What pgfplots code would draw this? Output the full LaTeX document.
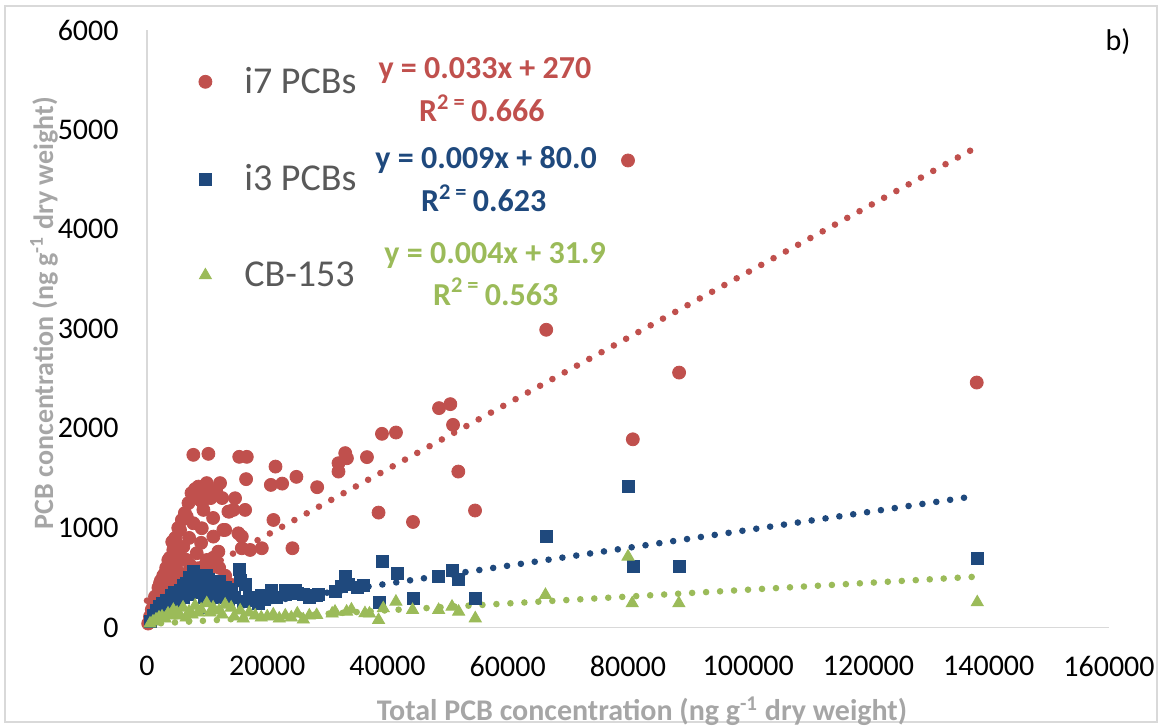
\documentclass[border=0pt]{standalone}
\usepackage{pgfplots}
\pgfplotsset{compat=1.18}
\usepackage{fontspec}
\setmainfont{Carlito}
\definecolor{cred}{HTML}{C0504D}
\definecolor{cblue}{HTML}{1F497D}
\definecolor{cgreen}{HTML}{9BBB59}
\definecolor{lblgray}{HTML}{A6A6A6}
\definecolor{axgray}{HTML}{D9D9D9}
\definecolor{leggray}{HTML}{595959}

\pgfplotstableread{
x y
138000 2460
88500 2560
80000 4690
80800 1890
66400 2990
54560 1175
51780 1566
50900 2035
50450 2243
48570 2203
44240 1060
41410 1958
39080 1945
38510 1154
36580 1711
33250 1700
32970 1751
31850 1650
31850 1566
28300 1409
24850 1513
24190 796
22480 1445
20600 1432
21370 1616
21030 1080
16600 1714
15340 1714
16480 1490
14650 1298
13540 1164
14370 1181
16320 1181
13000 980
15200 946
15770 913
15770 796
17150 779
19100 796
14100 427
12150 1450
10210 1744
7710 1734
8540 1415
9940 1450
8820 1281
9380 1181
6610 1114
7710 1047
5490 980
9110 997
11040 913
12700 980
4380 779
6040 812
8270 746
11870 762
3550 678
4940 645
7160 628
9940 678
3000 545
5490 545
2160 444
4380 444
1330 310
3280 344
1610 209
200 40
500 110
800 180
1100 250
1900 400
2300 470
2700 520
3200 600
3800 700
4200 860
4700 900
5200 1000
5800 1080
6300 1150
6900 1250
7400 1350
8000 1390
8600 1330
9200 1260
10000 1400
10600 1300
11500 1380
12500 1300
6000 500
7000 900
8000 560
9000 850
10500 600
11000 1100
12000 600
13000 520
2500 300
3500 420
4500 560
5500 700
6500 680
1800 250
2800 380
3600 500
5000 400
6500 450
7500 480
11000 700
8500 595
9660 628
5210 477
6040 410
13700 1164
}\redtab

\pgfplotstableread{
x y
138090 691
88630 611
80870 611
80000 1415
66430 913
54660 293
51830 484
50730 571
48500 518
44340 293
41570 545
39180 665
38680 249
36000 420
33500 430
32970 511
32410 410
31300 360
28520 337
28250 327
26000 330
24640 377
22980 377
20760 377
18530 243
16400 430
15600 470
15400 580
14000 380
13000 400
12000 460
11000 430
10200 480
9900 520
8500 520
7710 561
7000 500
6500 440
6000 420
5490 377
4500 350
4000 320
3280 276
2500 240
2000 210
1500 176
1000 120
500 60
3000 200
4000 230
5000 250
6000 300
7000 330
8000 350
8000 470
9000 400
9500 300
10500 350
11500 300
12500 330
13500 280
14500 300
16000 260
17000 300
17500 270
19000 320
19500 280
21500 300
23000 330
25000 340
27000 300
35000 400
}\bluetab

\pgfplotstableread{
x y
138090 253
88460 243
80700 243
80000 712
66270 327
54600 92
51830 159
50730 209
48500 176
44170 176
41400 259
38510 75
39300 193
37000 140
36250 143
34000 180
33200 159
31270 159
30800 140
28220 125
27000 120
26000 80
25000 140
24000 100
23000 120
22000 90
21000 130
20000 110
19000 100
18000 120
17000 150
16000 90
15500 170
14500 110
14000 200
13000 230
12500 130
12000 170
11000 200
10500 150
9940 243
9000 180
8500 150
8000 220
7500 130
7000 160
6500 100
6000 200
5500 120
5000 150
4380 176
4000 120
3500 140
3000 90
2500 110
2000 100
1500 80
1000 60
500 40
}\greentab

\begin{document}
\begin{tikzpicture}
\useasboundingbox (0,0) rectangle (580pt,-362.5pt);
\draw[axgray, line width=0.8pt] (2.5pt,-3pt) rectangle (578.5pt,-361pt);
\begin{axis}[
  at={(73.5pt,-313.75pt)}, anchor=south west,
  scale only axis, width=481pt, height=298.75pt,
  xmin=0, xmax=160000, ymin=0, ymax=6000,
  xtick={0,20000,...,160000}, ytick={0,1000,...,6000},
  scaled ticks=false,
  /pgf/number format/fixed, /pgf/number format/precision=0,
  /pgf/number format/set thousands separator={},
  /pgf/number format/assume math mode=true,
  xticklabel={\pgfmathprintnumber[fixed,precision=0,set thousands separator={},assume math mode=true]{\tick}},
  yticklabel={\pgfmathprintnumber[fixed,precision=0,set thousands separator={},assume math mode=true]{\tick}},
  axis x line*=bottom, axis y line*=left,
  axis line style={draw=axgray, line width=0.8pt, -},
  major tick length=0pt, tick style={draw=none},
  ticklabel style={font=\fontsize{15}{18}\selectfont, text=black},
  yticklabel style={inner sep=0pt, anchor=east, xshift=-14pt},
  xticklabel style={inner sep=0pt, anchor=north, yshift=-14pt},
  clip=false,
  legend cell align=left,
  legend style={at={(0.0395,0.752)}, anchor=west, draw=none, fill=none,
    inner sep=0pt, font=\fontsize{19}{22}\selectfont, text=leggray,
    row sep=30pt},
  legend image code/.code={\path[draw=none, fill=none] (0pt,0pt) -- (27.5pt,0pt);\draw[draw=none, mark repeat=2, mark phase=2] plot coordinates {(0pt,0pt)(10pt,0pt)(20pt,0pt)};},
]
\addplot[only marks, mark=*, mark size=3.25pt, color=cred, fill=cred] table[x=x,y=y] {\redtab};
\addlegendentry{i7 PCBs}
\addplot[only marks, mark=square*, mark size=3pt, color=cblue, fill=cblue] table[x=x,y=y] {\bluetab};
\addlegendentry{i3 PCBs}
\addplot[only marks, mark=triangle*, mark size=3.5pt, color=cgreen, fill=cgreen] table[x=x,y=y] {\greentab};
\addlegendentry{CB-153}
\addplot[cred, line width=3.3pt, line cap=round, dash pattern=on 0pt off 7pt, forget plot] coordinates {(0,270) (138090,4827)};
\addplot[cblue, line width=3.3pt, line cap=round, dash pattern=on 0pt off 7pt, forget plot] coordinates {(0,80) (138090,1323)};
\addplot[cgreen, line width=3.3pt, line cap=round, dash pattern=on 0pt off 7pt, forget plot] coordinates {(0,35) (138090,511)};
\begin{scope}[font=\bfseries\fontsize{16}{19}\selectfont]
\node[text=cred] at (axis cs:56200,5597) {y = 0.033x + 270};
\node[text=cred] at (axis cs:55700,5216) {R\textsuperscript{2 =}\,0.666};
\node[text=cblue] at (axis cs:56400,4694) {y = 0.009x + 80.0};
\node[text=cblue] at (axis cs:56000,4312) {R\textsuperscript{2 =}\,0.623};
\node[text=cgreen] at (axis cs:57900,3740) {y = 0.004x + 31.9};
\node[text=cgreen] at (axis cs:58000,3369) {R\textsuperscript{2 =}\,0.563};
\end{scope}
\end{axis}
\node[font=\fontsize{15}{18}\selectfont] at (559pt,-21pt) {b)};
\node[font=\bfseries\fontsize{15}{18}\selectfont, text=lblgray] at (321pt,-355.5pt) {Total PCB concentration (ng g\textsuperscript{-1} dry weight)};
\node[font=\bfseries\fontsize{14}{17}\selectfont, text=lblgray, rotate=90] at (22pt,-156.5pt) {PCB concentration (ng g\textsuperscript{-1} dry weight)};
\end{tikzpicture}
\end{document}
